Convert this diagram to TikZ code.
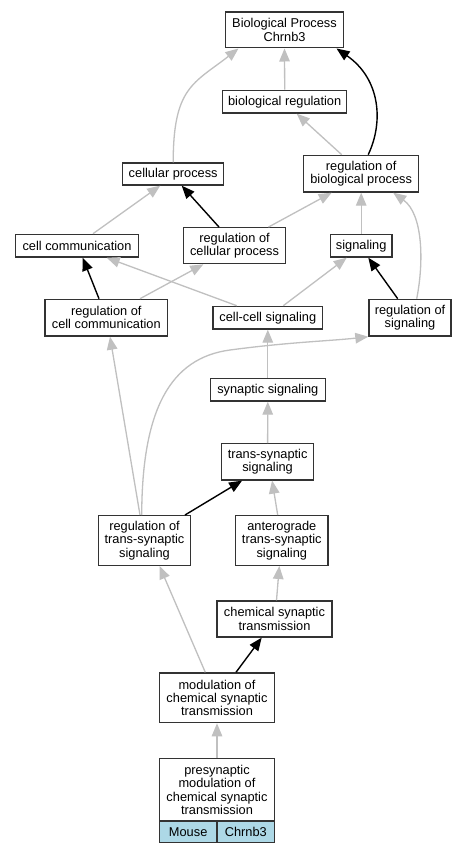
\documentclass[tikz,border=0pt]{standalone}
\usepackage{fontspec}
\setmainfont{Liberation Sans}
\usetikzlibrary{arrows.meta}
\definecolor{cellblue}{RGB}{173,216,230}
\definecolor{edgegray}{RGB}{192,192,192}
\begin{document}
\begin{tikzpicture}[x=1pt,y=-1pt,
  box/.style={draw=black!80,line width=1.3pt,fill=white,inner sep=0pt,align=center,
    font=\fontsize{12.8}{13.3}\selectfont},
  gedge/.style={draw=edgegray,line width=1.3pt,-{Triangle[length=13pt,width=10.5pt]}},
  bedge/.style={draw=black,line width=1.4pt,-{Triangle[length=13pt,width=10.5pt]}}]
\fill[white] (0,0) rectangle (467,853);
\useasboundingbox (0,0) rectangle (467,853);
% nodes
\node[box,minimum width=118.4pt,minimum height=35.7pt] (bp) at (284.5,30) {Biological Process\\Chrnb3};
\node[box,minimum width=124pt,minimum height=22.7pt] (breg) at (284.7,101.7) {biological regulation};
\node[box,minimum width=101pt,minimum height=22pt] (cp) at (173.2,174) {cellular process};
\node[box,minimum width=115pt,minimum height=36.7pt] (rbp) at (361.2,173.7) {regulation of\\biological process};
\node[box,minimum width=122.6pt,minimum height=22.7pt] (cc) at (77,245.7) {cell communication};
\node[box,minimum width=101.6pt,minimum height=36pt] (rcp) at (234.5,245.7) {regulation of\\cellular process};
\node[box,minimum width=61.7pt,minimum height=22.7pt] (sig) at (361.2,245.7) {signaling};
\node[box,minimum width=122.7pt,minimum height=36.7pt] (rcc) at (106.3,317.7) {regulation of\\cell communication};
\node[box,minimum width=109.7pt,minimum height=22.7pt] (ccs) at (267.8,317.7) {cell-cell signaling};
\node[box,minimum width=82pt,minimum height=36.7pt] (rs) at (410,317.7) {regulation of\\signaling};
\node[box,minimum width=115pt,minimum height=22.7pt] (ss) at (267.8,389.7) {synaptic signaling};
\node[box,minimum width=92.3pt,minimum height=36.3pt] (ts) at (267.6,461.8) {trans-synaptic\\signaling};
\node[box,minimum width=92.3pt,minimum height=49.7pt] (rts) at (144.5,540.5) {regulation of\\trans-synaptic\\signaling};
\node[box,minimum width=92.3pt,minimum height=49.7pt] (ats) at (281.8,540.5) {anterograde\\trans-synaptic\\signaling};
\node[box,minimum width=115pt,minimum height=36pt] (cst) at (274.5,619) {chemical synaptic\\transmission};
\node[box,minimum width=115.3pt,minimum height=49.7pt] (mod) at (217,697.8) {modulation of\\chemical synaptic\\transmission};
\node[box,minimum width=115.3pt,minimum height=62.3pt] (pre) at (217,789.9) {presynaptic\\modulation of\\chemical synaptic\\transmission};
\node[box,fill=cellblue,minimum width=57.65pt,minimum height=21.7pt] (mouse) at (188.17,831.9) {Mouse};
\node[box,fill=cellblue,minimum width=57.65pt,minimum height=21.7pt] (chr) at (245.83,831.9) {Chrnb3};
% edges
\draw[gedge] (cp.north) .. controls +(0,-75) and +(-45,35) .. ([xshift=-46pt]bp.south);
\draw[gedge] (breg.north) -- (bp.south);
\draw[bedge] ([xshift=7pt]rbp.north) .. controls +(15.8,-33.3) and +(43.5,30.1) .. ([xshift=52pt]bp.south);
\draw[gedge] ([xshift=-19.5pt]rbp.north) -- ([xshift=12pt]breg.south);
\draw[gedge] ([xshift=16pt]cc.north) -- ([xshift=-13pt]cp.south);
\draw[bedge] ([xshift=-15.5pt]rcp.north) -- ([xshift=8.5pt]cp.south);
\draw[gedge] ([xshift=34pt]rcp.north) -- ([xshift=-29.5pt]rbp.south);
\draw[gedge] (sig.north) -- (rbp.south);
\draw[gedge] ([xshift=6.7pt]rs.north) .. controls (424,262) and (423,214) .. ([xshift=32pt]rbp.south);
\draw[bedge] ([xshift=-7.3pt]rcc.north) -- ([xshift=5.7pt]cc.south);
\draw[gedge] ([xshift=33.7pt]rcc.north) -- ([xshift=-31.2pt]rcp.south);
\draw[gedge] ([xshift=-31.1pt]ccs.north) -- ([xshift=29.7pt]cc.south);
\draw[gedge] ([xshift=15.5pt]ccs.north) -- ([xshift=-14.5pt]sig.south);
\draw[bedge] ([xshift=-12.3pt]rs.north) -- ([xshift=7.1pt]sig.south);
\draw[gedge] (ss.north) -- (ccs.south);
\draw[gedge] ([xshift=-2.8pt]rts.north) .. controls (142,410) and (170,358) .. (230,350) .. controls (290,342) and (330,341) .. ([xshift=-41.7pt]rs.south);
\draw[gedge] ([xshift=-4.5pt]rts.north) -- ([xshift=3.7pt]rcc.south);
\draw[gedge] (ts.north) -- (ss.south);
\draw[bedge] ([xshift=40.5pt]rts.north) -- ([xshift=-25.5pt]ts.south);
\draw[gedge] ([xshift=-4.1pt]ats.north) -- ([xshift=4.5pt]ts.south);
\draw[gedge] ([xshift=2pt]cst.north) -- ([xshift=-2.5pt]ats.south);
\draw[gedge] ([xshift=-11.7pt]mod.north) -- ([xshift=15pt]rts.south);
\draw[bedge] ([xshift=19pt]mod.north) -- ([xshift=-12.8pt]cst.south);
\draw[gedge] (pre.north) -- (mod.south);
\end{tikzpicture}
\end{document}
